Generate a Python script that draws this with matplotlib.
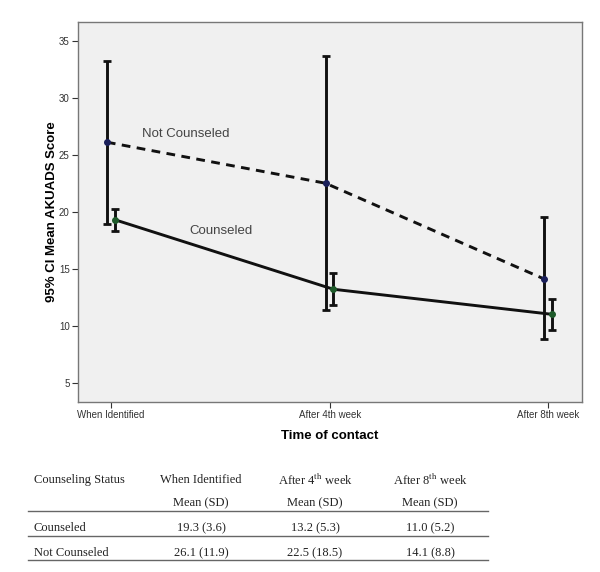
import matplotlib
matplotlib.use("Agg")
import matplotlib.pyplot as plt
import numpy as np

times = ["When Identified", "After 4th week", "After 8th week"]
couns_mean = [19.3, 13.2, 11.0]
couns_lo = [18.33, 11.82, 9.62]
couns_hi = [20.24, 14.6, 12.34]
notc_mean = [26.1, 22.5, 14.1]
notc_lo = [18.9, 11.38, 8.8]
notc_hi = [33.25, 33.7, 19.5]

tbl_header = ["Counseling Status", "When Identified", "After 4$^{\\mathrm{th}}$ week", "After 8$^{\\mathrm{th}}$ week"]
tbl_rows = [["Counseled", "19.3 (3.6)", "13.2 (5.3)", "11.0 (5.2)"],
            ["Not Counseled", "26.1 (11.9)", "22.5 (18.5)", "14.1 (8.8)"]]

plt.rcParams['mathtext.fontset'] = 'stix'
fig = plt.figure(figsize=(6, 5.72), dpi=100)
ax = fig.add_axes([0.13, 0.2972, 0.84, 0.6643])
ax.set_facecolor('#f0f0f0')
x = np.arange(len(times))
xn = x - 0.019
xc = x + 0.017

ax.plot(xn, notc_mean, ls=(0, (3, 2.2)), color='#111111', lw=2.1, zorder=3)
ax.plot(xc, couns_mean, ls='-', color='#111111', lw=2.1, zorder=3)
m = np.array(notc_mean)
ax.errorbar(xn, notc_mean, yerr=[m - np.array(notc_lo), np.array(notc_hi) - m], fmt='none',
            ecolor='#111111', elinewidth=2.1, capsize=3, capthick=2, zorder=4)
m2 = np.array(couns_mean)
ax.errorbar(xc, couns_mean, yerr=[m2 - np.array(couns_lo), np.array(couns_hi) - m2], fmt='none',
            ecolor='#111111', elinewidth=2.1, capsize=3, capthick=2, zorder=4)
ax.plot(xn, notc_mean, 'o', color='#1a1f5a', ms=4, zorder=5)
ax.plot(xc, couns_mean, 'o', color='#1e5a2a', ms=4, zorder=5)

ax.set_xlim(-0.151, 2.154)
ax.set_ylim(3.31, 36.64)
ax.set_xticks(x)
ax.set_xticklabels(times)
ax.set_yticks([5, 10, 15, 20, 25, 30, 35])
for s in ax.spines.values():
    s.set_color('#777777')
    s.set_linewidth(1)
ax.tick_params(labelsize=7, colors='#333333', length=4, width=0.8, pad=2)
for lab in ax.get_xticklabels() + ax.get_yticklabels():
    lab.set_family('Liberation Sans')
ax.set_ylabel("95% CI Mean AKUADS Score", fontsize=9.5, fontweight='bold', family='Liberation Sans', labelpad=1)
ax.set_xlabel("Time of contact", fontsize=9.5, fontweight='bold', family='Liberation Sans', labelpad=7)

ax.text(0.14, 26.85, "Not Counseled", fontsize=9.5, color='#444444', family='Liberation Sans', va='center')
ax.text(0.36, 18.3, "Counseled", fontsize=9.5, color='#444444', family='Liberation Sans', va='center')

# table
def fy(py):
    return 1 - py / 572.0
def fx(px):
    return px / 600.0
tf = dict(fontsize=9, family='Liberation Serif', color='#222222', va='center')
colx = [34, 201, 315, 430]
fig.text(fx(colx[0]), fy(480), tbl_header[0], ha='left', **tf)
for i in range(1, 4):
    fig.text(fx(colx[i]), fy(480), tbl_header[i], ha='center', **tf)
    fig.text(fx(colx[i]), fy(503), "Mean (SD)", ha='center', **tf)
rowy = [528, 553]
for r, row in enumerate(tbl_rows):
    fig.text(fx(colx[0]), fy(rowy[r]), row[0], ha='left', **tf)
    for i in range(1, 4):
        fig.text(fx(colx[i]), fy(rowy[r]), row[i], ha='center', **tf)
for ly in [511, 536, 560]:
    fig.add_artist(plt.Line2D([fx(28), fx(488)], [fy(ly), fy(ly)], color='#666666', lw=1, transform=fig.transFigure))

fig.savefig("out.png", dpi=100, facecolor='white')
